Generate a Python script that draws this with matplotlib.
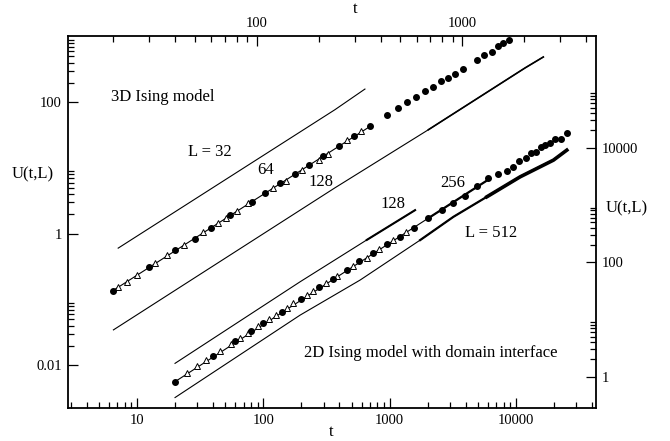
import matplotlib
matplotlib.use("Agg")
import matplotlib.pyplot as plt
from matplotlib.ticker import FixedLocator, NullFormatter

plt.rcParams['font.family'] = ['Liberation Serif', 'DejaVu Serif']

# ---------------- data : 3D Ising model (top t axis, left U axis) ----------------
t3_L32 = [21.2, 240, 336]
U3_L32 = [0.606, 77.1, 159]

t3_L64 = [20, 95, 356]
U3_L64 = [0.137, 3.10, 43.0]

t3_L128 = [20.1, 240, 684, 2018, 2477]
U3_L128 = [0.0346, 5.0, 38.3, 333, 489]

t3_circ = [20, 30, 40, 50, 60, 74, 95, 110, 130, 154, 180, 209, 250, 296, 356,
           429, 488, 538, 596, 659, 721, 789, 855, 923, 1002, 1179, 1279, 1387,
           1486, 1571, 1678]
U3_circ = [0.137, 0.311, 0.571, 0.839, 1.247, 1.95, 3.10, 4.25, 5.91, 8.19, 10.95,
           15.0, 21.6, 30.7, 43.0, 63.0, 80.7, 101, 119, 149, 171, 209, 234, 274,
           325, 445, 521, 589, 727, 785, 897]

t3_tri = [21.1, 23.3, 26.2, 32.0, 36.6, 44.3, 54.8, 64.5, 71, 80.1, 90.8, 120,
          139, 166, 201, 222, 275, 321]
U3_tri = [0.155, 0.183, 0.236, 0.358, 0.479, 0.680, 1.05, 1.455, 1.73, 2.24, 2.93,
          4.96, 6.25, 9.42, 13.4, 16.2, 27.0, 36.1]

# ---------------- data : 2D Ising model (bottom t axis, right U axis) ----------------
t2_L128 = [20, 195.5, 659, 1589]
U2_L128 = [1.71, 45.5, 245, 811]

t2_L256 = [20, 358, 2025, 6240]
U2_L256 = [0.818, 50.1, 588, 2900]

t2_L512 = [20, 195.5, 583, 1742, 3195, 5870, 10770, 19770, 25240]
U2_L512 = [0.432, 11.9, 48.7, 243, 620, 1385, 3093, 6058, 9060]

t2_circ = [20, 40, 60, 80, 100, 140, 199, 277, 358, 457, 575, 743, 948, 1209, 1570,
           2025, 2585, 3195, 3953, 4946, 6045, 7190, 8455, 9435, 10650, 11920, 13180,
           14430, 15720, 17100, 18630, 20400, 22640, 25240]
U2_circ = [0.818, 2.30, 4.20, 6.28, 8.65, 13.6, 23.2, 36.3, 50.1, 72.8, 104, 146, 207,
           278, 398, 588, 812, 1088, 1442, 2130, 2900, 3420, 3970, 4510, 5930, 6610,
           7920, 8450, 10330, 11060, 12140, 13900, 13900, 18120]

t2_tri = [25, 30, 35, 45, 55, 65, 75, 90, 110, 126, 154, 173, 221, 245, 314, 385,
          510, 659, 829, 1059, 1349]
U2_tri = [1.18, 1.56, 1.93, 2.81, 3.67, 4.73, 5.79, 7.58, 10.2, 12.1, 16.1, 19.1,
          27.2, 30.9, 42.7, 57.9, 85.5, 116, 167, 243, 331]

# tick labels
x3_major = [100, 1000]
y3_major = [0.01, 1, 100]
x2_major = [10, 100, 1000, 10000]
y2_major = [1, 100, 10000]

# ------------------------------------------------------------------------------------
W, H = 670, 441
fig = plt.figure(figsize=(W / 100, H / 100), dpi=100)
L, R, T, B = 67.5, 596, 36, 407.7
rect = [L / W, 1 - B / H, (R - L) / W, (B - T) / H]

ax2 = fig.add_axes(rect)
ax3 = fig.add_axes(rect, frameon=False)

for sp in ax2.spines.values():
    sp.set_linewidth(1.3)

ax2.set_xscale('log'); ax2.set_yscale('log')
ax3.set_xscale('log'); ax3.set_yscale('log')
ax2.set_xlim(2.818, 42960); ax2.set_ylim(0.2873, 893000)
ax3.set_xlim(12.02, 4467); ax3.set_ylim(0.00227, 1019)

ax2.xaxis.tick_bottom(); ax2.yaxis.tick_right()
ax3.xaxis.tick_top(); ax3.yaxis.tick_left()

def fmt(v):
    return ('%g' % v)

def set_ticks(axis, majors, minors):
    axis.set_major_locator(FixedLocator(majors))
    axis.set_ticklabels([fmt(v) for v in majors])
    axis.set_minor_locator(FixedLocator(minors))
    axis.set_minor_formatter(NullFormatter())

dec_minor = lambda lo, hi: [k * 10.0 ** e for e in range(lo, hi) for k in range(2, 10)]
set_ticks(ax2.xaxis, x2_major, dec_minor(0, 5))
set_ticks(ax3.xaxis, x3_major, dec_minor(1, 4))
set_ticks(ax3.yaxis, y3_major, [k * v for v in y3_major for k in range(2, 10)])
set_ticks(ax2.yaxis, y2_major, [k * v for v in y2_major for k in range(2, 10)])

for ax in (ax2, ax3):
    ax.tick_params(which='major', direction='in', length=7.5, width=0.9,
                   labelsize=10.5, pad=4.2)
    ax.tick_params(which='minor', direction='in', length=4.0, width=0.9)

# axis labels (placed as text in axes coordinates)
lab = dict(transform=ax2.transAxes, fontsize=12, va='center', ha='center')
ax2.text(0.4986, -0.0654, 't', **lab)
ax2.text(0.544, 1.073, 't', **lab)
ax2.text(-0.0653, 0.6287, 'U(t,L)', **lab)
ax2.text(1.0587, 0.5373, 'U(t,L)', **lab)

lw = 0.8
# 3D curves
ax3.plot(t3_L32, U3_L32, color='black', lw=lw)
ax3.plot(t3_L64, U3_L64, color='black', lw=lw)
ax3.plot(t3_L128, U3_L128, color='black', lw=lw)
ax3.plot(t3_L128[2:], U3_L128[2:], color='black', lw=1.2)
ax3.plot(t3_tri, U3_tri, ls='none', marker='^', ms=5, mfc='white', mec='black', mew=0.7)
ax3.plot(t3_circ, U3_circ, ls='none', marker='o', ms=4, mfc='black', mec='black')

# 2D curves
ax2.plot(t2_L128, U2_L128, color='black', lw=lw)
ax2.plot(t2_L128[2:], U2_L128[2:], color='black', lw=1.5)
ax2.plot(t2_L256, U2_L256, color='black', lw=lw)
ax2.plot(t2_L256[2:], U2_L256[2:], color='black', lw=1.6)
ax2.plot(t2_L512, U2_L512, color='black', lw=lw)
ax2.plot(t2_L512[3:], U2_L512[3:], color='black', lw=1.6)
ax2.plot(t2_L512[5:], U2_L512[5:], color='black', lw=2.6)
ax2.plot(t2_tri, U2_tri, ls='none', marker='^', ms=5, mfc='white', mec='black', mew=0.7)
ax2.plot(t2_circ, U2_circ, ls='none', marker='o', ms=4, mfc='black', mec='black')

# annotations
tx = dict(transform=ax2.transAxes, fontsize=12, va='center', ha='left')
ax2.text(0.0823, 0.8367, '3D Ising model', **tx)
ax2.text(0.2286, 0.6887, 'L = 32', **tx)
ax2.text(0.3586, 0.6393, '64', **tx)
ax2.text(0.4551, 0.6080, '128', **tx)
ax2.text(0.5913, 0.5472, '128', **tx)
ax2.text(0.7048, 0.6037, '256', **tx)
ax2.text(0.7521, 0.4708, 'L = 512', **tx)
ax2.text(0.4484, 0.1464, '2D Ising model with domain interface', **tx)

fig.savefig('out.png', dpi=100)
